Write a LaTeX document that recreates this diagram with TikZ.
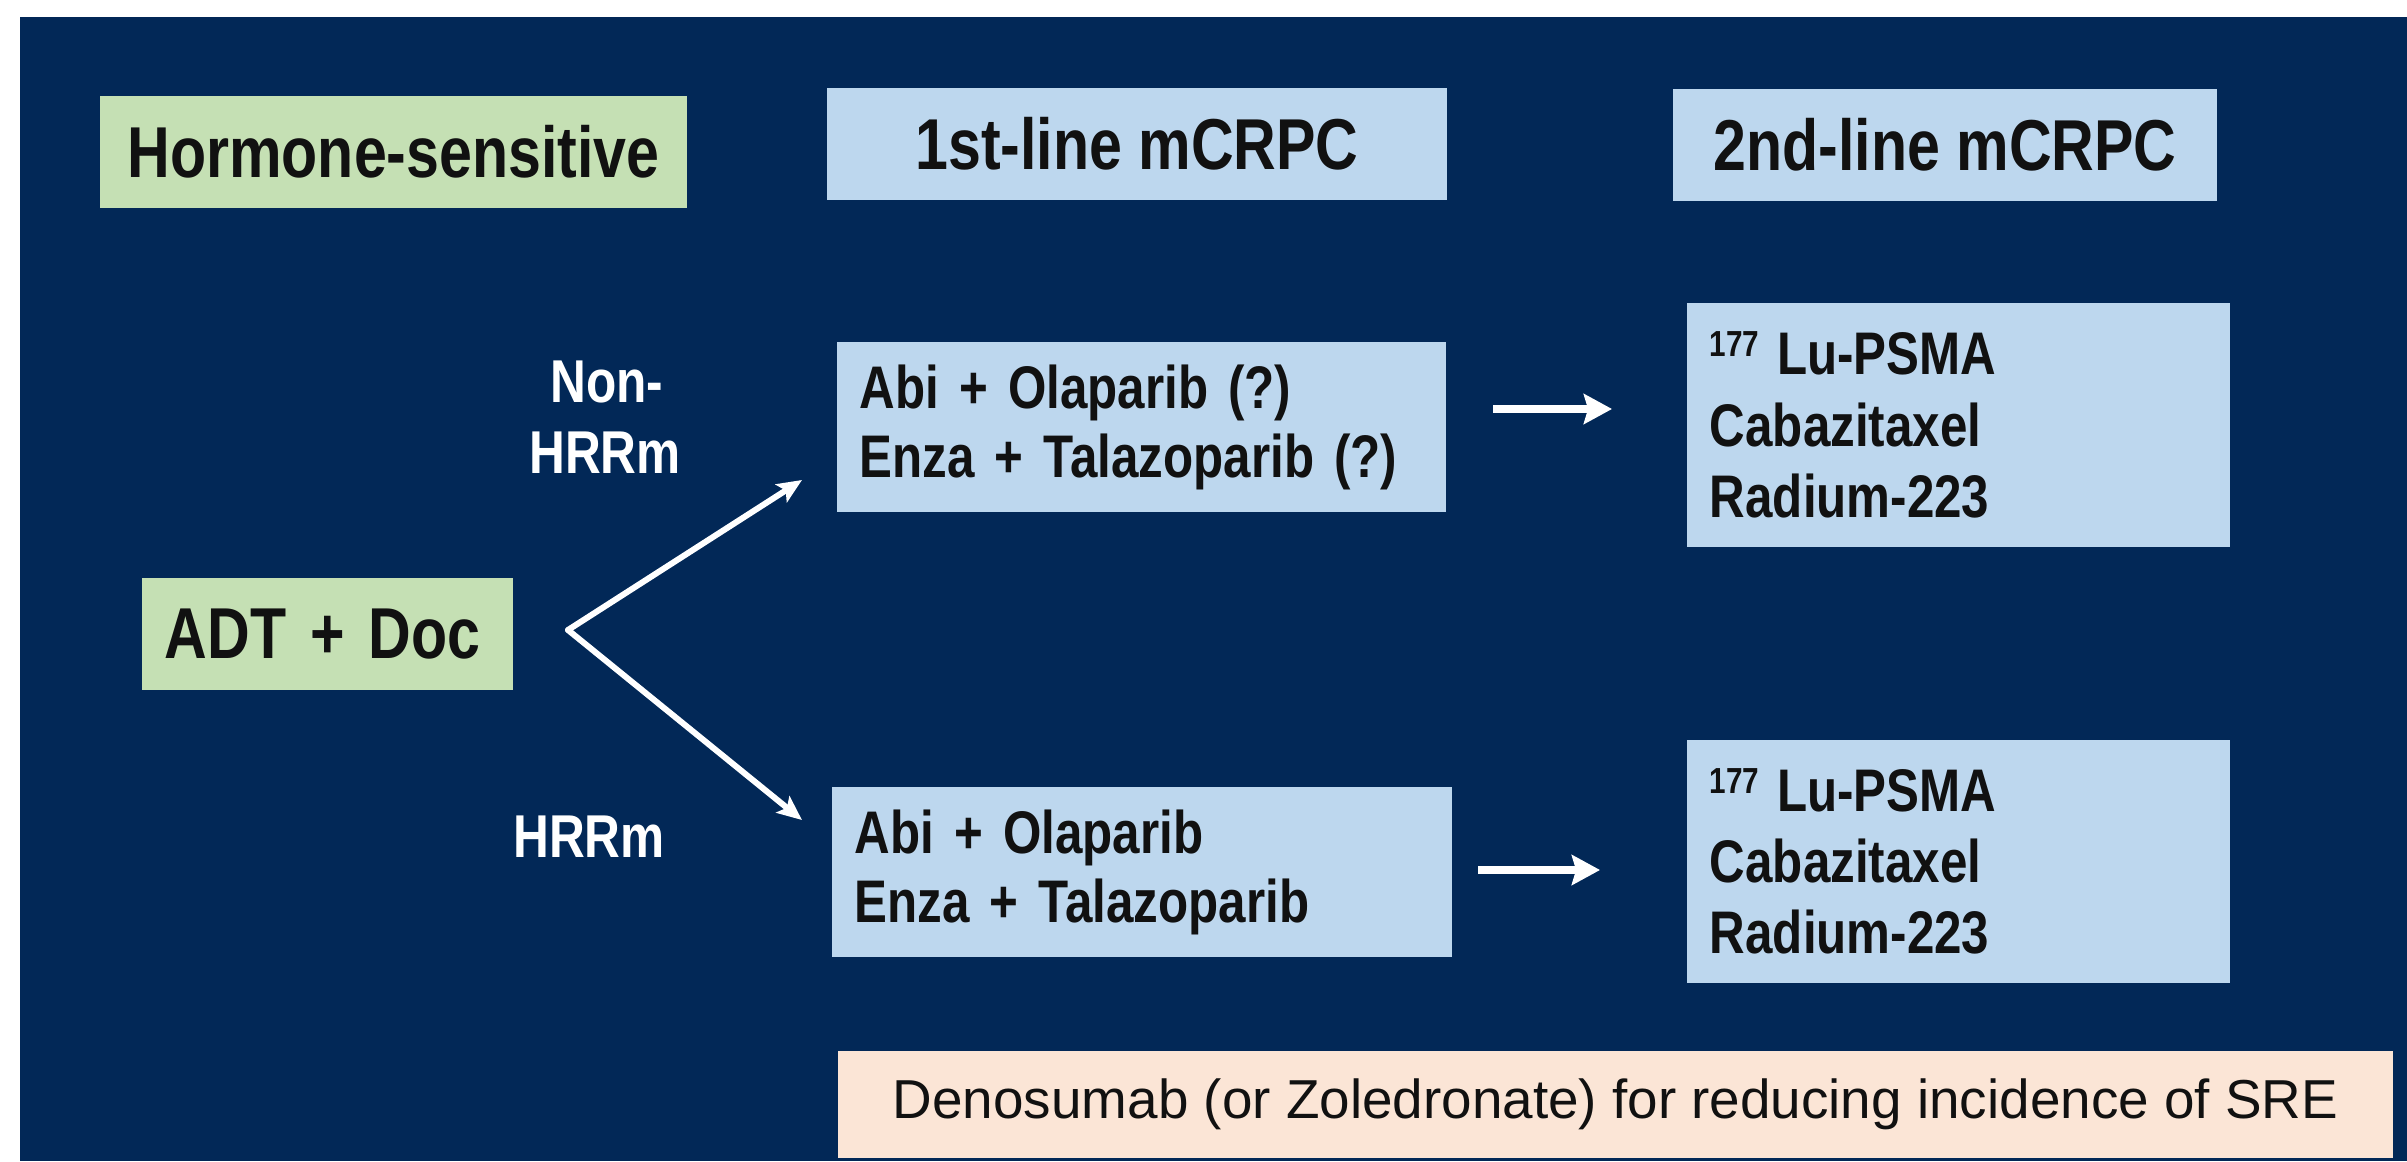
\documentclass[tikz,border=0pt]{standalone}
\usepackage{fontspec}
\setmainfont{Liberation Sans}
\newfontfamily\narrowfont{Liberation Sans}[FakeStretch=0.82]
\usetikzlibrary{arrows.meta}
\definecolor{navy}{HTML}{022857}
\definecolor{boxblue}{HTML}{BDD7EE}
\definecolor{boxgreen}{HTML}{C5E0B4}
\definecolor{boxpeach}{HTML}{FBE5D6}
\definecolor{ink}{HTML}{111111}

\begin{document}
\begin{tikzpicture}[x=0.01cm, y=-0.01cm,
  headbox/.style={rectangle, inner sep=0pt, text=ink, align=center,
    font=\narrowfont\bfseries\fontsize{20.5}{24}\selectfont},
  listbox/.style={rectangle, fill=boxblue, inner xsep=0.23cm, inner ysep=0pt,
    text=ink, align=left, font=\narrowfont\bfseries\fontsize{17.1}{19.6}\selectfont},
  agentlist/.style={listbox, text width=4.97cm,
    font=\narrowfont\bfseries\fontsize{17.1}{20.3}\selectfont},
  branchlabel/.style={text=white, inner sep=0pt, align=center,
    font=\narrowfont\bfseries\fontsize{17.2}{20}\selectfont},
  fork/.style={draw=white, line width=1.7pt, line cap=round,
    -{Stealth[length=7pt, width=6pt, inset=1.5pt]}},
  nextline/.style={draw=white, line width=2.5pt,
    -{Stealth[length=8pt, width=8.5pt, inset=1.2pt]}}
]
% page and slide background
\fill[white] (0,0) rectangle (2407,1161);
\useasboundingbox (0,0) rectangle (2407,1161);
\fill[navy] (20,17) rectangle (2407,1161);

% column headers
\node[headbox, fill=boxgreen, minimum width=5.87cm, minimum height=1.12cm]
  (hs) at (393.5,152) {Hormone-sensitive};
\node[headbox, fill=boxblue, minimum width=6.20cm, minimum height=1.12cm]
  (h1) at (1137,144) {1st-line mCRPC};
\node[headbox, fill=boxblue, minimum width=5.44cm, minimum height=1.12cm]
  (h2) at (1945,145) {2nd-line mCRPC};

% starting treatment
\node[headbox, fill=boxgreen, align=left, inner xsep=0.23cm, text width=3.25cm,
  minimum height=1.12cm] (adt) at (327.5,634) {ADT + Doc};

% first-line options
\node[listbox, text width=5.63cm, minimum height=1.70cm] (d1) at (1141.5,427)
  {Abi + Olaparib (?)\\Enza + Talazoparib (?)};
\node[listbox, text width=5.74cm, minimum height=1.70cm] (d2) at (1142,872)
  {Abi + Olaparib\\Enza + Talazoparib};

% second-line options
\node[agentlist, minimum height=2.44cm] (s1) at (1958.5,425)
  {\raisebox{5.1pt}{\fontsize{10.3}{12}\selectfont 177}\hspace{5pt}Lu-PSMA\\Cabazitaxel\\Radium-223};
\node[agentlist, minimum height=2.43cm] (s2) at (1958.5,861.5)
  {\raisebox{5.1pt}{\fontsize{10.3}{12}\selectfont 177}\hspace{5pt}Lu-PSMA\\Cabazitaxel\\Radium-223};

% bone-protective agent
\node[rectangle, fill=boxpeach, inner sep=0pt, minimum width=15.55cm,
  minimum height=1.07cm, text=ink, font=\fontsize{15.6}{18}\selectfont]
  (sre) at (1615.5,1104.5) {Denosumab (or Zoledronate) for reducing incidence of SRE};

% branch labels (the upper one is set on two lines)
\node[branchlabel] (lnonA) at (607,382) {Non-};
\node[branchlabel] (lnonB) at (605,453) {HRRm};
\node[branchlabel] (lhrr) at (589,837) {HRRm};

% branching arrows
\coordinate (split) at (568,630);
\coordinate (tipA) at (802,480);
\coordinate (tipB) at (802,820);
\draw[fork] (split) -- (tipA);
\draw[fork] (split) -- (tipB);

% first-line to second-line arrows
\coordinate (a1s) at (1493,409);
\coordinate (a1e) at (1612,409);
\coordinate (a2s) at (1478,870);
\coordinate (a2e) at (1600,870);
\draw[nextline] (a1s) -- (a1e);
\draw[nextline] (a2s) -- (a2e);
\end{tikzpicture}
\end{document}
